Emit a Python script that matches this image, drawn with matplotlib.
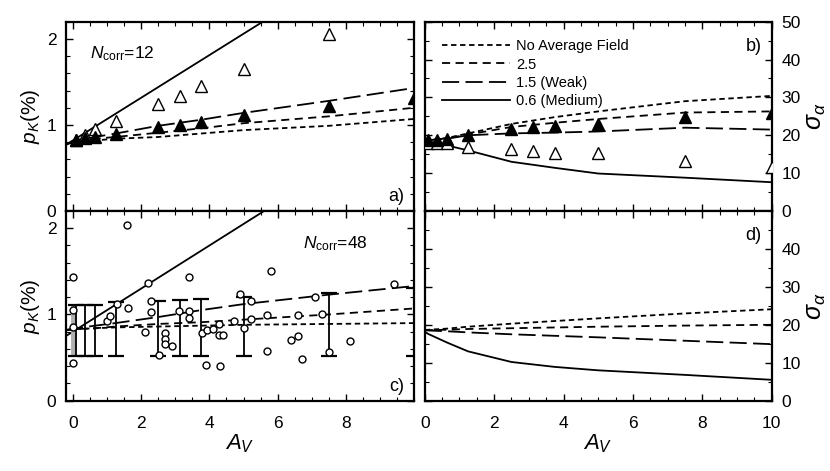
import numpy as np
import matplotlib
matplotlib.use("Agg")
import matplotlib.pyplot as plt
from matplotlib.ticker import MultipleLocator

# =====================
# fonts
# =====================
plt.rcParams['font.family'] = ['Liberation Sans', 'DejaVu Sans']
plt.rcParams['mathtext.fontset'] = 'custom'
plt.rcParams['mathtext.rm'] = 'Liberation Sans'
plt.rcParams['mathtext.it'] = 'Liberation Sans:italic'
plt.rcParams['mathtext.sf'] = 'Liberation Sans'

# =====================
# data
# =====================
# model curves, left panels (p_K %)
av_left = [-0.2, 0.1, 0.65, 1.25, 2.5, 3.75, 5, 7.5, 10]
a_noavg = [0.78, 0.80, 0.82, 0.84, 0.86, 0.90, 0.94, 0.99, 1.07]
a_25 = [0.78, 0.81, 0.84, 0.86, 0.91, 0.96, 1.02, 1.10, 1.20]
a_15 = [0.77, 0.82, 0.86, 0.90, 0.99, 1.06, 1.14, 1.28, 1.43]
solid_x = [-0.2, 10]
a_06 = [0.77, 3.30]

c_noavg = [0.82, 0.83, 0.84, 0.85, 0.86, 0.87, 0.88, 0.89, 0.90]
c_25 = [0.82, 0.83, 0.84, 0.86, 0.89, 0.91, 0.94, 1.00, 1.07]
c_15 = [0.82, 0.84, 0.87, 0.90, 0.97, 1.05, 1.12, 1.23, 1.33]
c_06 = [0.75, 3.30]

# model curves, right panels (sigma_alpha)
av_right = [0, 0.1, 0.65, 1.25, 2.5, 3.75, 5, 7.5, 10]
b_noavg = [18.5, 18.7, 19.3, 20.5, 23.0, 24.8, 26.3, 29.0, 30.4]
b_25 = [18.5, 18.7, 19.2, 20.2, 22.2, 23.3, 24.3, 26.0, 26.3]
b_15 = [18.5, 18.7, 19.1, 20.0, 20.5, 20.7, 21.0, 22.0, 21.5]
b_06 = [17.9, 17.8, 17.3, 16.0, 13.0, 11.4, 9.9, 8.8, 7.6]

d_noavg = [18.6, 18.7, 19.0, 19.5, 20.3, 21.0, 21.7, 23.0, 24.1]
d_25 = [18.6, 18.6, 18.7, 18.9, 19.1, 19.3, 19.5, 19.8, 20.0]
d_15 = [18.6, 18.5, 18.3, 18.0, 17.5, 17.1, 16.7, 15.8, 14.9]
d_06 = [18.2, 17.6, 15.3, 13.0, 10.2, 8.9, 8.0, 6.8, 5.5]

# triangles (simulated points)
av_tri = [0.1, 0.35, 0.65, 1.25, 2.5, 3.13, 3.75, 5, 7.5, 10]
a_filled = [0.83, 0.85, 0.86, 0.90, 0.98, 1.00, 1.03, 1.11, 1.22, 1.31]
a_open = [0.83, 0.88, 0.95, 1.05, 1.24, 1.34, 1.45, 1.65, 2.06, 2.60]
b_filled = [18.7, 18.8, 18.9, 20.1, 21.6, 22.2, 22.5, 23.0, 24.9, 25.9]
b_open = [17.9, 18.0, 17.9, 17.0, 16.3, 15.9, 15.2, 15.2, 13.3, 11.7]

# observed points, panel c
obs_av = [0, 0, 0, 0, 1.0, 1.1, 1.3, 1.61, 1.59, 2.1, 2.2, 2.3, 2.3, 2.52,
          2.7, 2.7, 2.7, 2.91, 3.1, 3.41, 3.41, 3.41, 3.79, 3.9, 3.94, 4.11,
          4.29, 4.31, 4.29, 4.4, 4.72, 4.89, 5.01, 5.21, 5.21, 5.69, 5.69,
          5.81, 6.4, 6.6, 6.6, 6.72, 7.09, 7.31, 7.5, 8.11, 9.41]
obs_pk = [1.43, 1.05, 0.86, 0.44, 0.93, 0.98, 1.12, 1.07, 2.04, 0.80, 1.37,
          1.16, 1.03, 0.53, 0.78, 0.71, 0.66, 0.63, 1.04, 1.44, 1.04, 0.96,
          0.78, 0.41, 0.82, 0.83, 0.89, 0.40, 0.76, 0.76, 0.92, 1.24, 0.84,
          1.16, 0.95, 0.99, 0.58, 1.50, 0.70, 0.75, 0.99, 0.48, 1.20, 1.00,
          0.57, 0.69, 1.35]

# error bars (ranges), panel c
err_av = [0.1, 0.35, 0.65, 1.25, 2.5, 3.13, 3.75, 5, 7.5, 10]
err_lo = [0.52, 0.52, 0.52, 0.52, 0.52, 0.52, 0.52, 0.52, 0.52, 0.52]
err_hi = [1.11, 1.11, 1.11, 1.14, 1.16, 1.17, 1.18, 1.20, 1.25, 1.31]
err0_lo, err0_hi = 0.52, 1.11

legend_labels = ['No Average Field', '2.5', '1.5 (Weak)', '0.6 (Medium)']

# =====================
# figure / axes
# =====================
fig = plt.figure(figsize=(8.3, 4.71), dpi=100)
x0, x1 = 0.0795, 0.4992
x2, x3 = 0.5117, 0.9298
yb, ym, yt = 0.1493, 0.552, 0.954
ax_a = fig.add_axes([x0, ym, x1 - x0, yt - ym])
ax_b = fig.add_axes([x2, ym, x3 - x2, yt - ym])
ax_c = fig.add_axes([x0, yb, x1 - x0, ym - yb])
ax_d = fig.add_axes([x2, yb, x3 - x2, ym - yb])

dash_styles = [(0, (3, 2)), (0, (4.5, 3)), (0, (9.5, 3.5)), '-']
lw = 1.3


def draw_lines(ax, x, series, sx=None):
    for i, y in enumerate(series):
        xx = x if (i < 3 or sx is None) else sx
        ax.plot(xx, y, color='black', linestyle=dash_styles[i], lw=lw,
                label=legend_labels[i], zorder=2)


draw_lines(ax_a, av_left, [a_noavg, a_25, a_15, a_06], solid_x)
draw_lines(ax_c, av_left, [c_noavg, c_25, c_15, c_06], solid_x)
draw_lines(ax_b, av_right, [b_noavg, b_25, b_15, b_06])
draw_lines(ax_d, av_right, [d_noavg, d_25, d_15, d_06])

# triangles
ax_a.plot(av_tri, a_open, linestyle='none', marker='^', ms=8.5,
          mfc='white', mec='black', mew=1.0, zorder=3)
ax_a.plot(av_tri, a_filled, linestyle='none', marker='^', ms=8.5,
          mfc='black', mec='black', zorder=4)
ax_b.plot(av_tri, b_open, linestyle='none', marker='^', ms=8.5,
          mfc='white', mec='black', mew=1.0, zorder=3)
ax_b.plot(av_tri, b_filled, linestyle='none', marker='^', ms=8.5,
          mfc='black', mec='black', zorder=4)

# panel c: error ranges and observed points
ax_c.errorbar([0], [(err0_lo + err0_hi) / 2], yerr=[(err0_hi - err0_lo) / 2],
              fmt='none', ecolor='#b0b0b0', elinewidth=3.5, capsize=0, zorder=2)
mid = [(lo + hi) / 2 for lo, hi in zip(err_lo, err_hi)]
half = [(hi - lo) / 2 for lo, hi in zip(err_lo, err_hi)]
ax_c.errorbar(err_av, mid, yerr=half, fmt='none', ecolor='black',
              elinewidth=1.3, capsize=5.5, capthick=1.6, zorder=3)
ax_c.plot(obs_av, obs_pk, linestyle='none', marker='o', ms=5,
          mfc='white', mec='black', mew=1.0, zorder=4)

# =====================
# axes settings
# =====================
for ax in (ax_a, ax_c):
    ax.set_xlim(-0.2, 10)
    ax.set_ylim(0, 2.2)
    ax.set_xticks([0, 2, 4, 6, 8])
    ax.set_yticks([0, 1, 2])
    ax.yaxis.set_minor_locator(MultipleLocator(0.2))
    ax.set_ylabel('$p_K$(%)', fontsize=15, labelpad=3)

for ax in (ax_b, ax_d):
    ax.set_xlim(0, 10)
    ax.set_ylim(0, 50)
    ax.set_xticks([0, 2, 4, 6, 8, 10])
    ax.yaxis.set_minor_locator(MultipleLocator(5))
    ax.yaxis.set_label_position('right')
    ax.set_ylabel(r'$\sigma_\alpha$', fontsize=18, labelpad=2)
ax_b.set_yticks([0, 10, 20, 30, 40, 50])
ax_d.set_yticks([0, 10, 20, 30, 40])

for ax in (ax_a, ax_b, ax_c, ax_d):
    ax.xaxis.set_minor_locator(MultipleLocator(0.5))
    ax.tick_params(which='both', direction='in', top=True, bottom=True,
                   left=True, right=True, labelsize=12.5)
    ax.tick_params(which='major', length=5, width=1)
    ax.tick_params(which='minor', length=3, width=0.8)
    ax.tick_params(axis='x', which='major', pad=11)
    ax.tick_params(axis='y', which='major', pad=7)
    for s in ax.spines.values():
        s.set_linewidth(1.6)

for ax in (ax_b, ax_d):
    ax.tick_params(labelleft=False, labelright=True)

for ax in (ax_a, ax_b):
    ax.tick_params(labelbottom=False)

for ax in (ax_c, ax_d):
    ax.set_xlabel('$A_V$', fontsize=16, labelpad=1)

# =====================
# annotations
# =====================
ax_a.text(0.07, 0.83, r'$N_{\mathrm{corr}}$=12', transform=ax_a.transAxes,
          fontsize=12.5, va='center')
ax_c.text(0.68, 0.83, r'$N_{\mathrm{corr}}$=48', transform=ax_c.transAxes,
          fontsize=12.5, va='center')
ax_a.text(0.97, 0.075, 'a)', transform=ax_a.transAxes, fontsize=13,
          ha='right', va='center')
ax_b.text(0.97, 0.87, 'b)', transform=ax_b.transAxes, fontsize=13,
          ha='right', va='center')
ax_c.text(0.97, 0.075, 'c)', transform=ax_c.transAxes, fontsize=13,
          ha='right', va='center')
ax_d.text(0.97, 0.87, 'd)', transform=ax_d.transAxes, fontsize=13,
          ha='right', va='center')

ax_b.legend(loc='upper left', bbox_to_anchor=(0.02, 0.96), frameon=False,
            fontsize=10.5, handlelength=4.7, handletextpad=0.4,
            labelspacing=0.28, borderaxespad=0.3)

fig.savefig('out.png', dpi=100)
